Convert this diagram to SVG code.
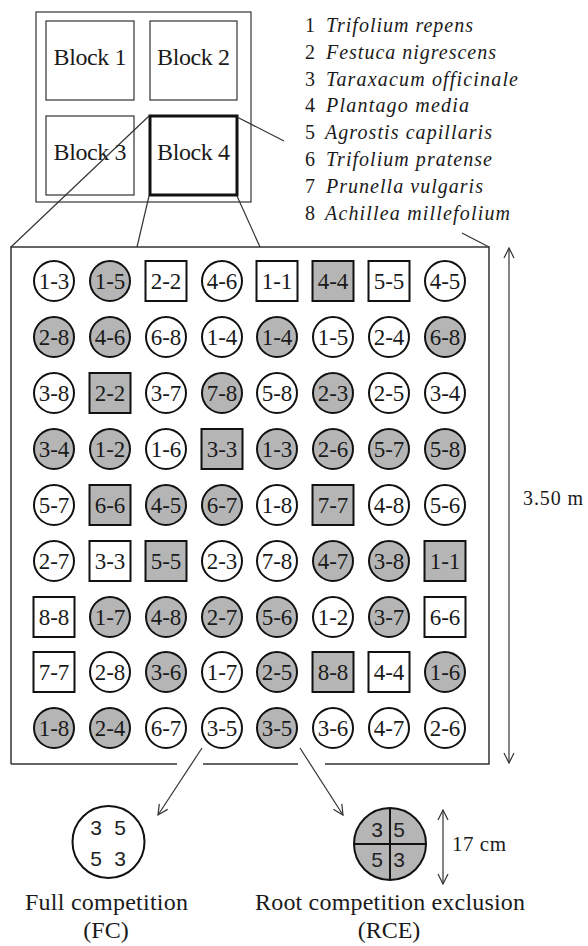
<svg xmlns="http://www.w3.org/2000/svg" width="588" height="946" viewBox="0 0 588 946">
<style>
.serif{font-family:"Liberation Serif","Times New Roman",serif;fill:#1a1a1a}
.sans{font-family:"Liberation Sans",Arial,sans-serif;fill:#222}
.lbl{font-size:23px;text-anchor:middle}
.blk{font-size:24px;text-anchor:middle}
.leg{font-size:20px}
.it{font-style:italic}
.w{fill:#fff;stroke:#111;stroke-width:2}
.g{fill:#b5b5b5;stroke:#111;stroke-width:2}
.thin{fill:none;stroke:#333;stroke-width:1.2}
.frame{fill:none;stroke:#333;stroke-width:1.5}
.conn{fill:none;stroke:#333;stroke-width:1.2}
</style>
<defs>
<marker id="arr" viewBox="0 0 12 12" refX="11" refY="6" markerWidth="12" markerHeight="12" markerUnits="userSpaceOnUse" orient="auto-start-reverse">
<path d="M1,1 L11,6 L1,11" fill="none" stroke="#333" stroke-width="1.2"/>
</marker>
<symbol id="c" overflow="visible"><circle cx="0" cy="0" r="20"/></symbol>
</defs>
<rect width="588" height="946" fill="#fff"/>

<g id="site">
<rect x="36" y="12" width="215" height="190" class="thin"/>
</g>
<g id="block1"><rect x="46" y="21" width="88" height="79" class="thin"/><text x="90" y="65" class="serif blk" textLength="73">Block 1</text></g>
<g id="block2"><rect x="150" y="21" width="87" height="79" class="thin"/><text x="193.5" y="65" class="serif blk" textLength="73">Block 2</text></g>
<g id="block3"><rect x="46" y="116" width="88" height="79" class="thin"/><text x="90" y="160" class="serif blk" textLength="73">Block 3</text></g>
<g id="block4"><rect x="150" y="116" width="87" height="79" fill="none" stroke="#111" stroke-width="3"/><text x="193.5" y="160" class="serif blk" textLength="73">Block 4</text></g>

<g id="legend" class="serif leg">
<text x="305" y="32">1</text><text x="326" y="32" class="it" textLength="147">Trifolium repens</text>
<text x="305" y="59">2</text><text x="326" y="59" class="it" textLength="170">Festuca nigrescens</text>
<text x="305" y="85.5">3</text><text x="326" y="85.5" class="it" textLength="192">Taraxacum officinale</text>
<text x="305" y="112">4</text><text x="326" y="112" class="it" textLength="143">Plantago media</text>
<text x="305" y="139">5</text><text x="325" y="139" class="it" textLength="167">Agrostis capillaris</text>
<text x="305" y="166">6</text><text x="326" y="166" class="it" textLength="166">Trifolium pratense</text>
<text x="305" y="193">7</text><text x="326" y="193" class="it" textLength="157">Prunella vulgaris</text>
<text x="305" y="220">8</text><text x="325" y="220" class="it" textLength="185">Achillea millefolium</text>
</g>

<g id="plot">
<path d="M11,764 L11,247 L489,247 L489,764 L325,764 M298,764 L203,764 M177,764 L11,764" class="frame"/>
</g>

<g id="cells" class="serif lbl">
<!-- row 1 -->
<g id="r1c1"><circle cx="54" cy="281" r="20" class="w"/><text x="54" y="289">1-3</text></g>
<g id="r1c2"><circle cx="110" cy="281" r="20" class="g"/><text x="110" y="289">1-5</text></g>
<g id="r1c3"><rect x="145.5" y="261" width="41" height="40" class="w"/><text x="166" y="289">2-2</text></g>
<g id="r1c4"><circle cx="222" cy="281" r="20" class="w"/><text x="222" y="289">4-6</text></g>
<g id="r1c5"><rect x="256.5" y="261" width="41" height="40" class="w"/><text x="277" y="289">1-1</text></g>
<g id="r1c6"><rect x="312.5" y="261" width="41" height="40" class="g"/><text x="333" y="289">4-4</text></g>
<g id="r1c7"><rect x="368.5" y="261" width="41" height="40" class="w"/><text x="389" y="289">5-5</text></g>
<g id="r1c8"><circle cx="445" cy="281" r="20" class="w"/><text x="445" y="289">4-5</text></g>
<!-- row 2 -->
<g id="r2c1"><circle cx="54" cy="337" r="20" class="g"/><text x="54" y="345">2-8</text></g>
<g id="r2c2"><circle cx="110" cy="337" r="20" class="g"/><text x="110" y="345">4-6</text></g>
<g id="r2c3"><circle cx="166" cy="337" r="20" class="w"/><text x="166" y="345">6-8</text></g>
<g id="r2c4"><circle cx="222" cy="337" r="20" class="w"/><text x="222" y="345">1-4</text></g>
<g id="r2c5"><circle cx="277" cy="337" r="20" class="g"/><text x="277" y="345">1-4</text></g>
<g id="r2c6"><circle cx="333" cy="337" r="20" class="w"/><text x="333" y="345">1-5</text></g>
<g id="r2c7"><circle cx="389" cy="337" r="20" class="w"/><text x="389" y="345">2-4</text></g>
<g id="r2c8"><circle cx="445" cy="337" r="20" class="g"/><text x="445" y="345">6-8</text></g>
<!-- row 3 -->
<g id="r3c1"><circle cx="54" cy="393" r="20" class="w"/><text x="54" y="401">3-8</text></g>
<g id="r3c2"><rect x="89.5" y="373" width="41" height="40" class="g"/><text x="110" y="401">2-2</text></g>
<g id="r3c3"><circle cx="166" cy="393" r="20" class="w"/><text x="166" y="401">3-7</text></g>
<g id="r3c4"><circle cx="222" cy="393" r="20" class="g"/><text x="222" y="401">7-8</text></g>
<g id="r3c5"><circle cx="277" cy="393" r="20" class="w"/><text x="277" y="401">5-8</text></g>
<g id="r3c6"><circle cx="333" cy="393" r="20" class="g"/><text x="333" y="401">2-3</text></g>
<g id="r3c7"><circle cx="389" cy="393" r="20" class="w"/><text x="389" y="401">2-5</text></g>
<g id="r3c8"><circle cx="445" cy="393" r="20" class="w"/><text x="445" y="401">3-4</text></g>
<!-- row 4 -->
<g id="r4c1"><circle cx="54" cy="449" r="20" class="g"/><text x="54" y="457">3-4</text></g>
<g id="r4c2"><circle cx="110" cy="449" r="20" class="g"/><text x="110" y="457">1-2</text></g>
<g id="r4c3"><circle cx="166" cy="449" r="20" class="w"/><text x="166" y="457">1-6</text></g>
<g id="r4c4"><rect x="201.5" y="429" width="41" height="40" class="g"/><text x="222" y="457">3-3</text></g>
<g id="r4c5"><circle cx="277" cy="449" r="20" class="g"/><text x="277" y="457">1-3</text></g>
<g id="r4c6"><circle cx="333" cy="449" r="20" class="g"/><text x="333" y="457">2-6</text></g>
<g id="r4c7"><circle cx="389" cy="449" r="20" class="g"/><text x="389" y="457">5-7</text></g>
<g id="r4c8"><circle cx="445" cy="449" r="20" class="g"/><text x="445" y="457">5-8</text></g>
<!-- row 5 -->
<g id="r5c1"><circle cx="54" cy="505" r="20" class="w"/><text x="54" y="513">5-7</text></g>
<g id="r5c2"><rect x="89.5" y="485" width="41" height="40" class="g"/><text x="110" y="513">6-6</text></g>
<g id="r5c3"><circle cx="166" cy="505" r="20" class="g"/><text x="166" y="513">4-5</text></g>
<g id="r5c4"><circle cx="222" cy="505" r="20" class="g"/><text x="222" y="513">6-7</text></g>
<g id="r5c5"><circle cx="277" cy="505" r="20" class="w"/><text x="277" y="513">1-8</text></g>
<g id="r5c6"><rect x="312.5" y="485" width="41" height="40" class="g"/><text x="333" y="513">7-7</text></g>
<g id="r5c7"><circle cx="389" cy="505" r="20" class="w"/><text x="389" y="513">4-8</text></g>
<g id="r5c8"><circle cx="445" cy="505" r="20" class="w"/><text x="445" y="513">5-6</text></g>
<!-- row 6 -->
<g id="r6c1"><circle cx="54" cy="561" r="20" class="w"/><text x="54" y="569">2-7</text></g>
<g id="r6c2"><rect x="89.5" y="541" width="41" height="40" class="w"/><text x="110" y="569">3-3</text></g>
<g id="r6c3"><rect x="145.5" y="541" width="41" height="40" class="g"/><text x="166" y="569">5-5</text></g>
<g id="r6c4"><circle cx="222" cy="561" r="20" class="w"/><text x="222" y="569">2-3</text></g>
<g id="r6c5"><circle cx="277" cy="561" r="20" class="w"/><text x="277" y="569">7-8</text></g>
<g id="r6c6"><circle cx="333" cy="561" r="20" class="g"/><text x="333" y="569">4-7</text></g>
<g id="r6c7"><circle cx="389" cy="561" r="20" class="g"/><text x="389" y="569">3-8</text></g>
<g id="r6c8"><rect x="424.5" y="541" width="41" height="40" class="g"/><text x="445" y="569">1-1</text></g>
<!-- row 7 -->
<g id="r7c1"><rect x="33.5" y="597" width="41" height="40" class="w"/><text x="54" y="625">8-8</text></g>
<g id="r7c2"><circle cx="110" cy="617" r="20" class="g"/><text x="110" y="625">1-7</text></g>
<g id="r7c3"><circle cx="166" cy="617" r="20" class="g"/><text x="166" y="625">4-8</text></g>
<g id="r7c4"><circle cx="222" cy="617" r="20" class="g"/><text x="222" y="625">2-7</text></g>
<g id="r7c5"><circle cx="277" cy="617" r="20" class="g"/><text x="277" y="625">5-6</text></g>
<g id="r7c6"><circle cx="333" cy="617" r="20" class="w"/><text x="333" y="625">1-2</text></g>
<g id="r7c7"><circle cx="389" cy="617" r="20" class="g"/><text x="389" y="625">3-7</text></g>
<g id="r7c8"><rect x="424.5" y="597" width="41" height="40" class="w"/><text x="445" y="625">6-6</text></g>
<!-- row 8 -->
<g id="r8c1"><rect x="33.5" y="652" width="41" height="40" class="w"/><text x="54" y="680">7-7</text></g>
<g id="r8c2"><circle cx="110" cy="672" r="20" class="w"/><text x="110" y="680">2-8</text></g>
<g id="r8c3"><circle cx="166" cy="672" r="20" class="g"/><text x="166" y="680">3-6</text></g>
<g id="r8c4"><circle cx="222" cy="672" r="20" class="w"/><text x="222" y="680">1-7</text></g>
<g id="r8c5"><circle cx="277" cy="672" r="20" class="g"/><text x="277" y="680">2-5</text></g>
<g id="r8c6"><rect x="312.5" y="652" width="41" height="40" class="g"/><text x="333" y="680">8-8</text></g>
<g id="r8c7"><rect x="368.5" y="652" width="41" height="40" class="w"/><text x="389" y="680">4-4</text></g>
<g id="r8c8"><circle cx="445" cy="672" r="20" class="g"/><text x="445" y="680">1-6</text></g>
<!-- row 9 -->
<g id="r9c1"><circle cx="54" cy="728" r="20" class="g"/><text x="54" y="736">1-8</text></g>
<g id="r9c2"><circle cx="110" cy="728" r="20" class="g"/><text x="110" y="736">2-4</text></g>
<g id="r9c3"><circle cx="166" cy="728" r="20" class="w"/><text x="166" y="736">6-7</text></g>
<g id="r9c4"><circle cx="222" cy="728" r="20" class="w"/><text x="222" y="736">3-5</text></g>
<g id="r9c5"><circle cx="277" cy="728" r="20" class="g"/><text x="277" y="736">3-5</text></g>
<g id="r9c6"><circle cx="333" cy="728" r="20" class="w"/><text x="333" y="736">3-6</text></g>
<g id="r9c7"><circle cx="389" cy="728" r="20" class="w"/><text x="389" y="736">4-7</text></g>
<g id="r9c8"><circle cx="445" cy="728" r="20" class="w"/><text x="445" y="736">2-6</text></g>
</g>

<g id="dim-plot">
<line x1="509" y1="248" x2="509" y2="763" class="conn" marker-start="url(#arr)" marker-end="url(#arr)"/>
<text x="523" y="505" class="serif" font-size="20" textLength="60">3.50 m</text>
</g>

<g id="fc">
<circle cx="108.5" cy="842" r="36" fill="#fff" stroke="#111" stroke-width="2"/>
<text class="sans" font-size="21" text-anchor="middle"><tspan x="96" y="835">3</tspan><tspan x="120" y="835">5</tspan><tspan x="96" y="866">5</tspan><tspan x="120" y="866">3</tspan></text>
<text x="106.5" y="910" class="serif" font-size="24" text-anchor="middle" textLength="163">Full competition</text>
<text x="106" y="938" class="serif" font-size="24" text-anchor="middle">(FC)</text>
</g>

<g id="rce">
<circle cx="390" cy="844" r="36" fill="#b5b5b5" stroke="#111" stroke-width="2"/>
<path d="M390,808 V880 M354,844 H426" stroke="#111" stroke-width="2"/>
<text class="sans" font-size="21" text-anchor="middle"><tspan x="377" y="837">3</tspan><tspan x="399" y="837">5</tspan><tspan x="377" y="867">5</tspan><tspan x="399" y="867">3</tspan></text>
<text x="390" y="910" class="serif" font-size="24" text-anchor="middle" textLength="270">Root competition exclusion</text>
<text x="389" y="938" class="serif" font-size="24" text-anchor="middle">(RCE)</text>
</g>

<g id="dim-pot">
<line x1="443" y1="810" x2="443" y2="884" class="conn" marker-start="url(#arr)" marker-end="url(#arr)"/>
<text x="452" y="851" class="serif" font-size="21" textLength="54">17 cm</text>
</g>

<g id="connectors" class="conn">
<line x1="149" y1="116" x2="11" y2="247"/>
<line x1="149" y1="196" x2="137" y2="247"/>
<line x1="237" y1="196" x2="260" y2="247"/>
<line x1="237" y1="117" x2="284" y2="141"/>
<line x1="462" y1="233" x2="489" y2="247"/>
<line x1="202" y1="748" x2="158" y2="815" marker-end="url(#arr)"/>
<line x1="300" y1="748" x2="343" y2="815" marker-end="url(#arr)"/>
</g>
</svg>
